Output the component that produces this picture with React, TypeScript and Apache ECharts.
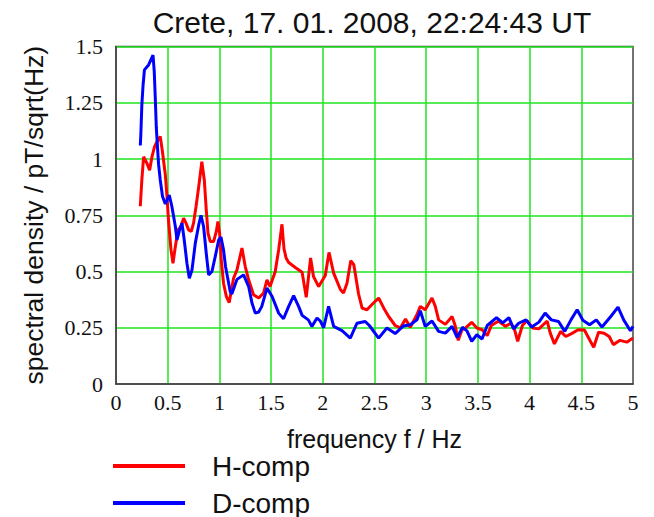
import React, { useEffect, useRef } from "react";
import * as echarts from "echarts";

const titleText = "Crete, 17. 01. 2008, 22:24:43 UT";
const xName = "frequency f / Hz";
const yName = "spectral density / pT/sqrt(Hz)";
const seriesNames = ["H-comp", "D-comp"];

const hFreq = [
  0.235, 0.25, 0.267, 0.3, 0.325, 0.348, 0.373, 0.4, 0.428, 0.45, 0.477, 0.493, 0.509, 0.532, 0.551, 0.574,
  0.6, 0.628, 0.654, 0.677, 0.702, 0.728, 0.75, 0.774, 0.8, 0.83, 0.854, 0.873, 0.89, 0.912, 0.944, 0.97,
  0.986, 1.002, 1.018, 1.04, 1.067, 1.095, 1.137, 1.17, 1.218, 1.25, 1.283, 1.33, 1.38, 1.427, 1.46, 1.49,
  1.54, 1.573, 1.605, 1.625, 1.645, 1.67, 1.734, 1.8, 1.84, 1.882, 1.91, 1.96, 2.024, 2.06, 2.105, 2.17,
  2.2, 2.234, 2.27, 2.3, 2.346, 2.38, 2.427, 2.49, 2.54, 2.59, 2.637, 2.7, 2.75, 2.8, 2.846, 2.91,
  2.943, 2.99, 3.056, 3.088, 3.12, 3.185, 3.25, 3.28, 3.31, 3.346, 3.38, 3.44, 3.49, 3.54, 3.59, 3.63,
  3.7, 3.765, 3.82, 3.855, 3.885, 3.93, 3.975, 4.03, 4.09, 4.17, 4.2, 4.24, 4.3, 4.35, 4.41, 4.47,
  4.53, 4.58, 4.62, 4.667, 4.72, 4.77, 4.81, 4.875, 4.94, 5.0,
];
const hVal = [
  0.79, 0.907, 1.01, 0.98, 0.95, 1.01, 1.055, 1.08, 1.1, 1.03, 0.93, 0.833, 0.72, 0.596, 0.537, 0.611,
  0.685, 0.7, 0.737, 0.715, 0.685, 0.678, 0.715, 0.789, 0.877, 0.988, 0.907, 0.774, 0.67, 0.633, 0.633, 0.678,
  0.722, 0.67, 0.552, 0.448, 0.389, 0.362, 0.47, 0.507, 0.604, 0.522, 0.463, 0.397, 0.382, 0.404, 0.463, 0.433,
  0.5, 0.596, 0.71, 0.6, 0.56, 0.54, 0.518, 0.497, 0.385, 0.56, 0.478, 0.433, 0.482, 0.585, 0.493, 0.42,
  0.404, 0.448, 0.548, 0.53, 0.4, 0.337, 0.33, 0.36, 0.382, 0.337, 0.3, 0.26, 0.249, 0.289, 0.252, 0.308,
  0.345, 0.33, 0.382, 0.345, 0.285, 0.265, 0.3, 0.26, 0.194, 0.241, 0.249, 0.274, 0.249, 0.241, 0.215, 0.26,
  0.28, 0.256, 0.27, 0.241, 0.19, 0.26, 0.282, 0.249, 0.245, 0.28, 0.226, 0.178, 0.234, 0.211, 0.225, 0.241,
  0.24, 0.197, 0.163, 0.23, 0.226, 0.211, 0.175, 0.194, 0.186, 0.204,
];

const dFreq = [
  0.235, 0.24, 0.25, 0.262, 0.275, 0.315, 0.358, 0.37, 0.38, 0.39, 0.4, 0.412, 0.428, 0.45, 0.477, 0.515,
  0.54, 0.574, 0.59, 0.615, 0.638, 0.66, 0.686, 0.709, 0.735, 0.767, 0.8, 0.822, 0.847, 0.873, 0.896, 0.928,
  0.96, 0.993, 1.015, 1.04, 1.06, 1.105, 1.12, 1.17, 1.234, 1.283, 1.315, 1.347, 1.38, 1.41, 1.46, 1.51,
  1.573, 1.62, 1.67, 1.718, 1.766, 1.8, 1.86, 1.895, 1.944, 1.976, 2.008, 2.056, 2.105, 2.186, 2.266, 2.33,
  2.41, 2.45, 2.54, 2.62, 2.7, 2.78, 2.846, 2.91, 2.943, 2.99, 3.056, 3.12, 3.185, 3.25, 3.3, 3.35,
  3.394, 3.44, 3.49, 3.54, 3.59, 3.68, 3.74, 3.8, 3.845, 3.894, 3.965, 4.02, 4.09, 4.15, 4.21, 4.28,
  4.34, 4.4, 4.46, 4.515, 4.58, 4.645, 4.7, 4.785, 4.855, 4.91, 4.975, 5.0,
];
const dVal = [
  1.06, 1.107, 1.24, 1.33, 1.396, 1.418, 1.462, 1.388, 1.27, 1.138, 1.063, 0.975, 0.907, 0.833, 0.8, 0.84,
  0.79, 0.7, 0.64, 0.685, 0.715, 0.64, 0.537, 0.47, 0.507, 0.626, 0.707, 0.75, 0.7, 0.58, 0.485, 0.5,
  0.567, 0.64, 0.653, 0.596, 0.52, 0.41, 0.4, 0.465, 0.485, 0.433, 0.36, 0.315, 0.32, 0.345, 0.426, 0.389,
  0.315, 0.29, 0.345, 0.393, 0.345, 0.305, 0.285, 0.256, 0.293, 0.28, 0.25, 0.345, 0.256, 0.237, 0.204, 0.27,
  0.278, 0.26, 0.204, 0.249, 0.224, 0.258, 0.263, 0.285, 0.326, 0.256, 0.28, 0.234, 0.226, 0.256, 0.206, 0.252,
  0.236, 0.19, 0.219, 0.2, 0.26, 0.295, 0.272, 0.295, 0.245, 0.27, 0.285, 0.253, 0.275, 0.315, 0.285, 0.278,
  0.234, 0.285, 0.33, 0.283, 0.263, 0.285, 0.253, 0.3, 0.342, 0.285, 0.237, 0.256,
];

const SANS = "Liberation Sans, Arial, sans-serif";
const SERIF = "Liberation Serif, Times New Roman, serif";
const GREEN = "#1fe51f";

const legendBase = {
  orient: "horizontal",
  left: 113,
  padding: 0,
  icon: "rect",
  itemWidth: 72,
  itemHeight: 4,
  textStyle: { fontFamily: SANS, fontSize: 28, color: "#111", lineHeight: 32, padding: [0, 0, 0, 22] },
};

export default function App() {
  const ref = useRef<HTMLDivElement>(null);
  useEffect(() => {
    if (!ref.current) return;
    const chart = echarts.init(ref.current, null, { renderer: "svg" });
    chart.setOption({
      animation: false,
      backgroundColor: "#ffffff",
      title: {
        text: titleText,
        left: 367,
        top: 2,
        textAlign: "center",
        textStyle: { fontFamily: SANS, fontSize: 30, fontWeight: "normal", color: "#111" },
      },
      legend: [
        { ...legendBase, top: 450, data: [seriesNames[0]] },
        { ...legendBase, top: 487, data: [seriesNames[1]] },
      ],
      grid: {
        left: 116,
        right: 21,
        top: 46.5,
        bottom: 133,
        show: true,
        borderColor: "#444",
        borderWidth: 1.5,
      },
      xAxis: {
        type: "value",
        min: 0,
        max: 5,
        interval: 0.5,
        name: xName,
        nameLocation: "middle",
        nameGap: 42,
        nameTextStyle: { fontFamily: SANS, fontSize: 25, color: "#111" },
        axisLine: { show: true, lineStyle: { color: "#444", width: 1.5 } },
        axisTick: { show: false },
        axisLabel: { fontFamily: SERIF, fontSize: 22, color: "#111", margin: 7 },
        splitLine: { show: true, showMinLine: false, showMaxLine: false, lineStyle: { color: GREEN, width: 1.5 } },
      },
      yAxis: {
        type: "value",
        min: 0,
        max: 1.5,
        interval: 0.25,
        name: yName,
        nameLocation: "middle",
        nameGap: 69,
        nameTextStyle: { fontFamily: SANS, fontSize: 26.5, color: "#111" },
        axisLine: { show: true, lineStyle: { color: "#444", width: 1.5 } },
        axisTick: { show: false },
        axisLabel: { fontFamily: SERIF, fontSize: 22, color: "#111", margin: 13 },
        splitLine: { show: true, showMinLine: false, showMaxLine: true, lineStyle: { color: GREEN, width: 1.5 } },
      },
      series: [
        {
          name: seriesNames[0],
          type: "line",
          data: hFreq.map((f, i) => [f, hVal[i]]),
          symbol: "none",
          lineStyle: { color: "#ff0000", width: 3 },
          itemStyle: { color: "#ff0000" },
          z: 3,
        },
        {
          name: seriesNames[1],
          type: "line",
          data: dFreq.map((f, i) => [f, dVal[i]]),
          symbol: "none",
          lineStyle: { color: "#0000ff", width: 3 },
          itemStyle: { color: "#0000ff" },
          z: 4,
        },
      ],
    });
    return () => chart.dispose();
  }, []);
  return (
    <div
      ref={ref}
      style={{ position: "absolute", left: 0, top: 0, width: 654, height: 517, background: "#fff" }}
    />
  );
}
